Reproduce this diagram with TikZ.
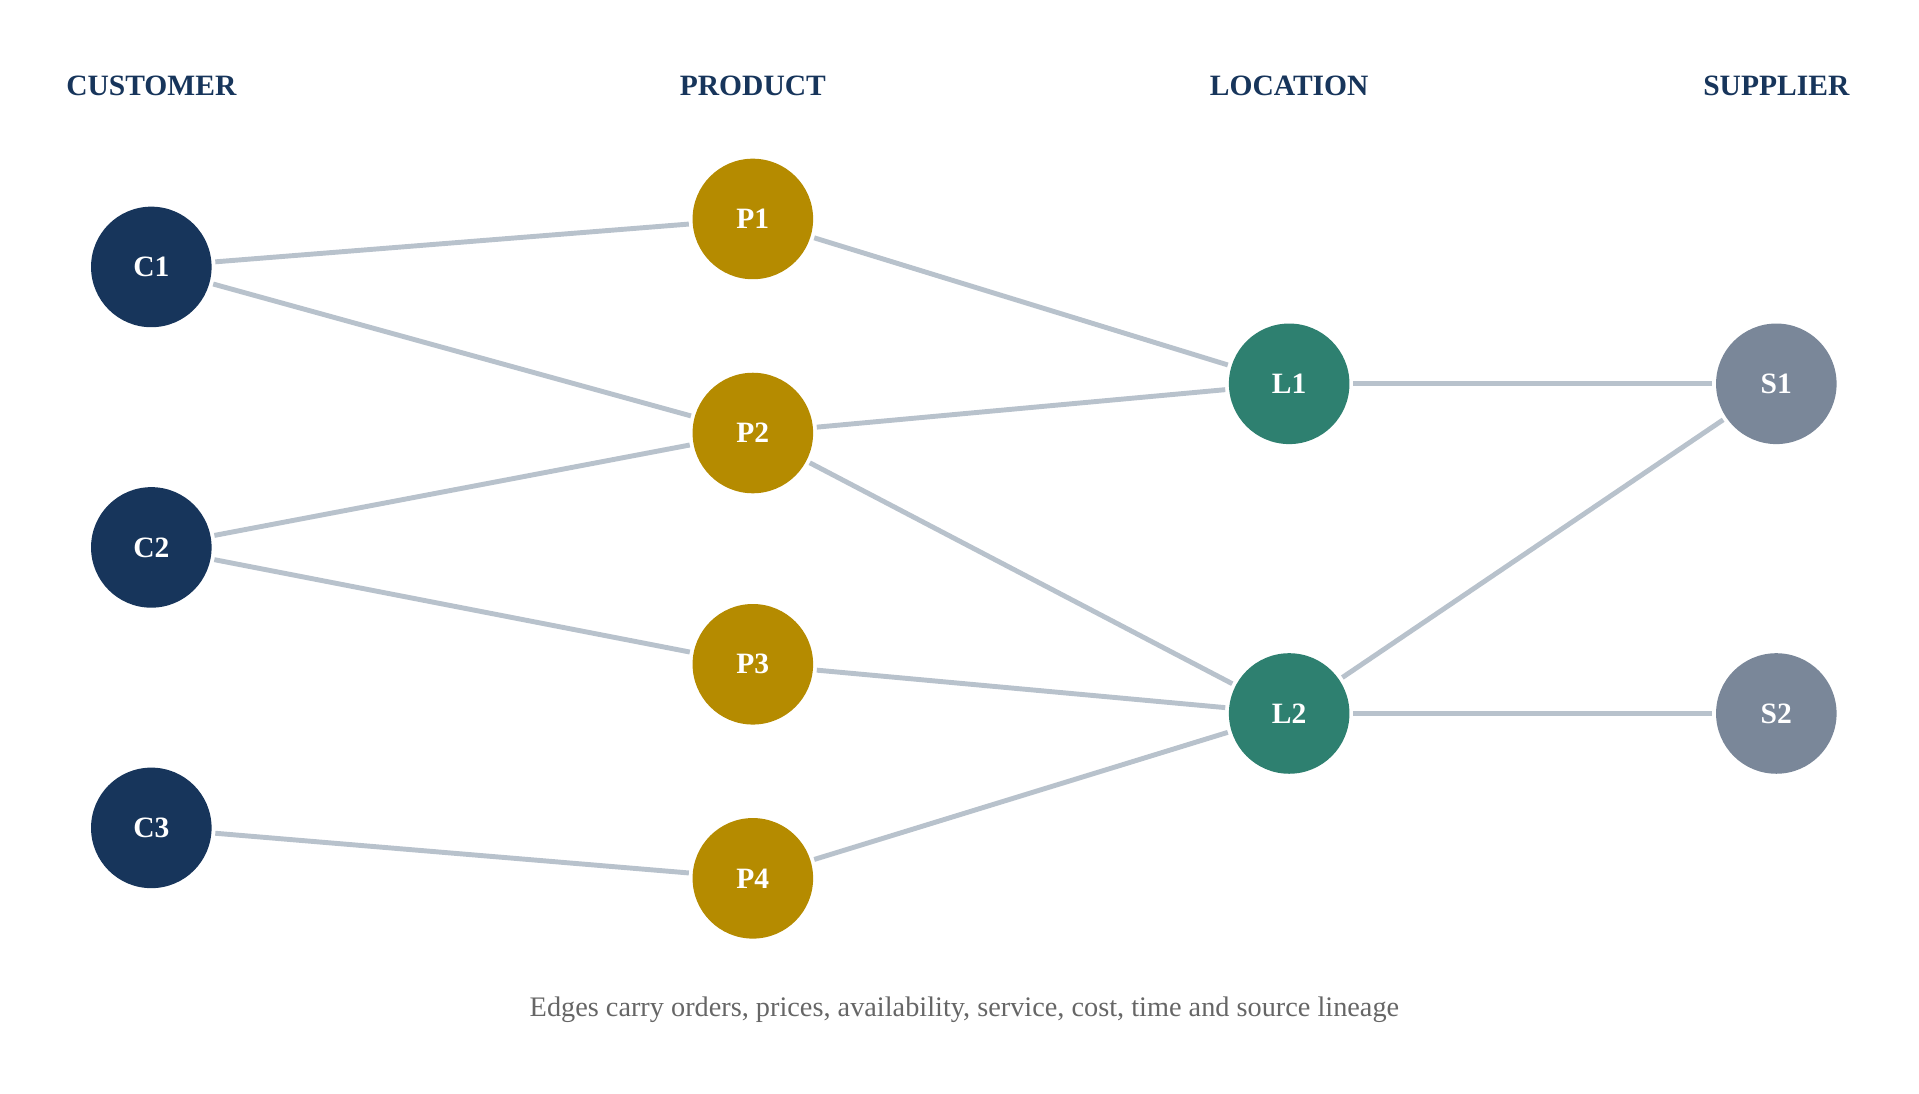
\documentclass[tikz,border=0pt]{standalone}
\usepackage{fontspec}
\setmainfont{Liberation Serif}
\begin{document}
\begin{tikzpicture}[x=1pt,y=-1pt,
  nd/.style={circle,minimum size=98pt,inner sep=0pt,text=white,font=\bfseries\fontsize{24}{28}\selectfont},
  cu/.style={nd,fill=cNavy}, pr/.style={nd,fill=cGold}, lo/.style={nd,fill=cTeal}, su/.style={nd,fill=cGrey},
  hd/.style={text=cNavy,font=\bfseries\fontsize{24}{28}\selectfont},
  ed/.style={draw=cEdge,line width=4pt,shorten <=3pt,shorten >=3pt}]
\definecolor{cNavy}{HTML}{17355B}
\definecolor{cGold}{HTML}{B58B00}
\definecolor{cTeal}{HTML}{2E8070}
\definecolor{cGrey}{HTML}{7A8799}
\definecolor{cEdge}{HTML}{B8C2CC}
\useasboundingbox (0,0) rectangle (1560,889);
\node[hd] (h1) at (123,70) {CUSTOMER};
\node[hd] (h2) at (612,70) {PRODUCT};
\node[hd] (h3) at (1048,70) {LOCATION};
\node[hd] (h4) at (1444,70) {SUPPLIER};
\node[cu] (C1) at (123,217) {C1};
\node[cu] (C2) at (123,445) {C2};
\node[cu] (C3) at (123,673) {C3};
\node[pr] (P1) at (612,178) {P1};
\node[pr] (P2) at (612,352) {P2};
\node[pr] (P3) at (612,540) {P3};
\node[pr] (P4) at (612,714) {P4};
\node[lo] (L1) at (1048,312) {L1};
\node[lo] (L2) at (1048,580) {L2};
\node[su] (S1) at (1444,312) {S1};
\node[su] (S2) at (1444,580) {S2};
\foreach \a/\b in {C1/P1,C1/P2,C2/P2,C2/P3,C3/P4,P1/L1,P2/L1,P2/L2,P3/L2,P4/L2,L1/S1,L2/S1,L2/S2}
  \draw[ed] (\a) -- (\b);
\node[text=black!60,font=\fontsize{23}{28}\selectfont] (cap) at (784,821) {Edges carry orders, prices, availability, service, cost, time and source lineage};
\end{tikzpicture}
\end{document}
